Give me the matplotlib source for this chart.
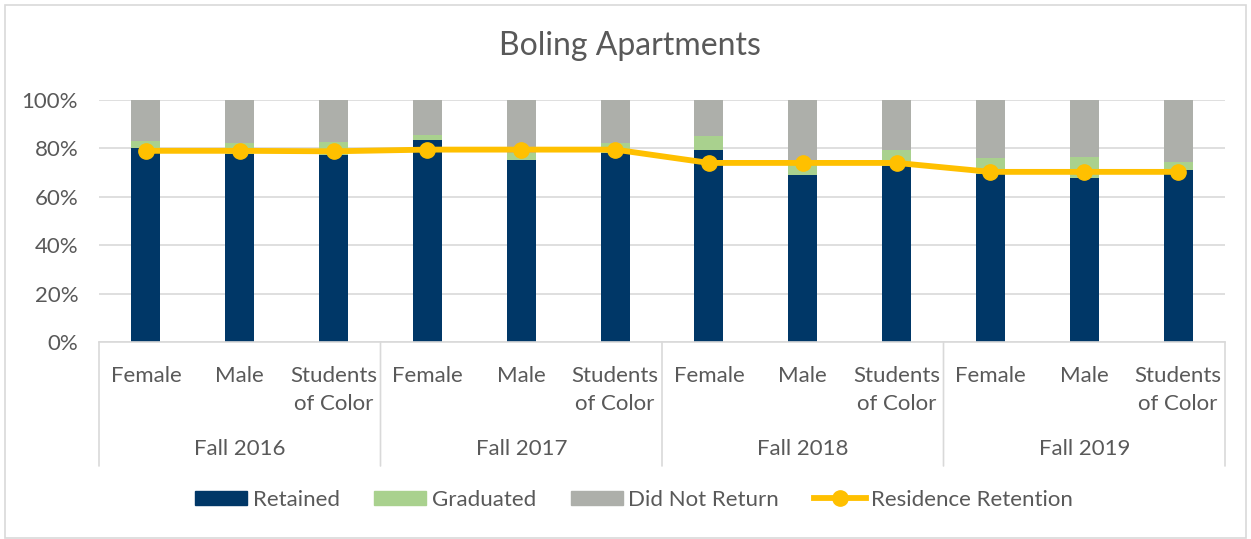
import matplotlib
matplotlib.use("Agg")
import matplotlib.pyplot as plt
from matplotlib.patches import Rectangle
from matplotlib.lines import Line2D
import numpy as np

plt.rcParams['font.family'] = ['Lato', 'DejaVu Sans']

title = "Boling Apartments"
groups = ["Fall 2016", "Fall 2017", "Fall 2018", "Fall 2019"]
subcats = ["Female", "Male", "Students\nof Color"]
retained = [80.0, 77.7, 77.4, 83.3, 75.4, 78.1, 79.2, 69.1, 72.6, 69.6, 67.8, 71.2]
graduated = [3.0, 4.6, 5.4, 2.2, 2.7, 4.2, 5.9, 6.0, 6.9, 6.5, 8.5, 3.3]
residence_retention = [79.0, 79.0, 78.8, 79.5, 79.5, 79.5, 74.0, 74.0, 74.0, 70.3, 70.3, 70.3]
did_not_return = [100 - r - g for r, g in zip(retained, graduated)]

c_ret = "#003767"
c_grad = "#A9D18E"
c_dnr = "#ADAFAA"
c_line = "#FFC000"
c_text = "#595959"
c_grid = "#D9D9D9"

FS = 16

W, H = 1251, 539
fig = plt.figure(figsize=(W / 100, H / 100), dpi=100)
ax = fig.add_axes([99 / W, 1 - 342 / H, (1225 - 99) / W, (342 - 100) / H])

n = len(retained)
x = np.arange(n)
bw = 0.31
ax.bar(x, retained, bw, color=c_ret, label="Retained", zorder=2)
ax.bar(x, graduated, bw, bottom=retained, color=c_grad, label="Graduated", zorder=2)
bot2 = [r + g for r, g in zip(retained, graduated)]
ax.bar(x, did_not_return, bw, bottom=bot2, color=c_dnr, label="Did Not Return", zorder=2)
ax.plot(x, residence_retention, color=c_line, lw=4.2, marker="o", ms=11,
        label="Residence Retention", zorder=3, solid_capstyle="round")

ax.set_xlim(-0.5, n - 0.5)
ax.set_ylim(0, 100)
ax.set_yticks(np.arange(0, 101, 20))
ax.set_yticklabels([f"{v}%" for v in range(0, 101, 20)], fontsize=FS, color=c_text)
ax.yaxis.grid(True, color=c_grid, lw=1.2, zorder=0)
ax.set_axisbelow(True)
for s in ["top", "right", "left"]:
    ax.spines[s].set_visible(False)
ax.spines["bottom"].set_color(c_grid)
ax.spines["bottom"].set_linewidth(1.2)
ax.tick_params(axis="y", length=0, pad=15)
ax.tick_params(axis="x", length=0)
ax.set_xticks([])

# sub-category labels
labels = subcats * len(groups)
for i, lab in enumerate(labels):
    ax.annotate(lab, xy=(i, 0), xycoords=("data", "axes fraction"),
                xytext=(0, -24), textcoords="offset pixels",
                ha="center", va="top", fontsize=FS, color=c_text,
                linespacing=1.5, annotation_clip=False)
# group labels
for gi, g in enumerate(groups):
    ax.annotate(g, xy=(gi * 3 + 1, 0), xycoords=("data", "axes fraction"),
                xytext=(0, -97), textcoords="offset pixels",
                ha="center", va="top", fontsize=FS, color=c_text,
                annotation_clip=False)
# separator lines
for gi in range(len(groups) + 1):
    xs = gi * 3 - 0.5
    ax.annotate("", xy=(xs, 0), xycoords=("data", "axes fraction"),
                xytext=(xs, -124 / (342 - 100)), textcoords=("data", "axes fraction"),
                arrowprops=dict(arrowstyle="-", color=c_grid, lw=1.2, shrinkA=0, shrinkB=0),
                annotation_clip=False)

fig.text(630 / W, 1 - 46 / H, title, ha="center", va="center", fontsize=23, color=c_text)

handles = [Rectangle((0, 0), 1, 1, color=c_ret), Rectangle((0, 0), 1, 1, color=c_grad),
           Rectangle((0, 0), 1, 1, color=c_dnr),
           Line2D([], [], color=c_line, lw=4.2, marker="o", ms=11)]
leg = fig.legend(handles, ["Retained", "Graduated", "Did Not Return", "Residence Retention"],
                 loc="center", bbox_to_anchor=(634 / W, 1 - 500 / H), ncol=4, frameon=False,
                 fontsize=FS, handlelength=2.35, handleheight=0.63, columnspacing=1.55,
                 handletextpad=0.25, labelcolor=c_text)

fig.patches.append(Rectangle((5 / W, 1 / H), (W - 10) / W, (H - 6) / H, transform=fig.transFigure,
                             fill=False, edgecolor=c_grid, lw=1.2))

fig.savefig("out.png", dpi=100, facecolor="white")
